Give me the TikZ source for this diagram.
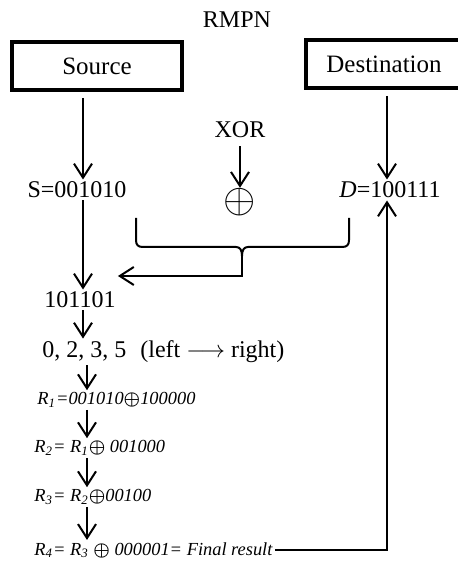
\documentclass[tikz,border=0pt]{standalone}
\usepackage{fontspec}
\setmainfont{Liberation Serif}
\usetikzlibrary{arrows.meta}
\usetikzlibrary{positioning}

\begin{document}
\begin{tikzpicture}[x=0.5pt,y=-0.5pt,
  box/.style={draw,line width=2pt,minimum height=24pt,font=\fontsize{12.5}{15}\selectfont},
  lbl/.style={font=\fontsize{12}{14}\selectfont,inner sep=1pt},
  rlbl/.style={font=\fontsize{9.2}{11}\selectfont\itshape,anchor=west,inner sep=1pt},
  arr/.style={line width=1pt,-{Straight Barb[length=7pt,width=9pt,line width=1pt]}},
  brc/.style={line width=1pt}]
\useasboundingbox (0,0) rectangle (458,565);

\node[lbl] (title) at (237,20) {RMPN};
\node[box,minimum width=85pt] (src) at (97,66) {Source};
\node[box,minimum width=78pt] (dst) at (384,64) {Destination};

\node[lbl] (xor) at (240,130) {XOR};
\node[inner sep=0pt] (xsym) at (240,202) {\huge$\oplus$};
\node[lbl] (s) at (77,190) {S=001010};
\node[lbl] (d) at (390,190) {\textit{D}=100111};
\node[lbl] (b) at (80,300) {101101};
\node[lbl,anchor=west] (idx) at (40,352) {0, 2, 3, 5\hspace{7pt}(left $\longrightarrow$ right)};

\node[rlbl] (r1) at (35,400) {R\textsubscript{1}=001010{\boldmath$\oplus$}100000};
\node[rlbl] (r2) at (32,448) {R\textsubscript{2}= R\textsubscript{1}{\boldmath$\oplus$} 001000};
\node[rlbl] (r3) at (32,497) {R\textsubscript{3}= R\textsubscript{2}{\boldmath$\oplus$}00100};
\node[rlbl] (r4) at (32,550) {R\textsubscript{4}= R\textsubscript{3} {\boldmath$\oplus$} 000001= Final result};

% columns of the vertical arrows
\coordinate (cs) at (83,0);
\coordinate (cr) at (87,0);
\coordinate (cd) at (387,0);

\draw[arr,shorten <=3pt] (src.south -| cs) -- (s.north -| cs);
\draw[arr,shorten <=3pt] (dst.south -| cd) -- (d.north -| cd);
\draw[arr,shorten <=3pt] (xor) -- (xsym);
\draw[arr] (s.south -| cs) -- (b.north -| cs);
\draw[arr] (b.south -| cs) -- (idx.north -| cs);
\draw[arr] (idx.south -| cr) -- (r1.north -| cr);
\draw[arr] (r1.south -| cr) -- (r2.north -| cr);
\draw[arr] (r2.south -| cr) -- (r3.north -| cr);
\draw[arr] (r3.south -| cr) -- (r4.north -| cr);

% brace under S, XOR and D
\coordinate (bcusp) at (242,256);
\coordinate (bfoot) at (242,276);
\draw[brc] (136,218) -- (136,240) .. controls (136,245) and (138,247) .. (143,247) -- (236,247)
  .. controls (240,247) and (242,250) .. (bcusp)
  .. controls (242,250) and (244,247) .. (248,247) -- (342,247)
  .. controls (347,247) and (349,245) .. (349,240) -- (349,218);
\draw[arr] (bcusp) -- (bfoot) -- (bfoot -| b.east);

\draw[arr] (r4.east) -- (r4.east -| cd) -- (d.south -| cd);

\end{tikzpicture}
\end{document}
